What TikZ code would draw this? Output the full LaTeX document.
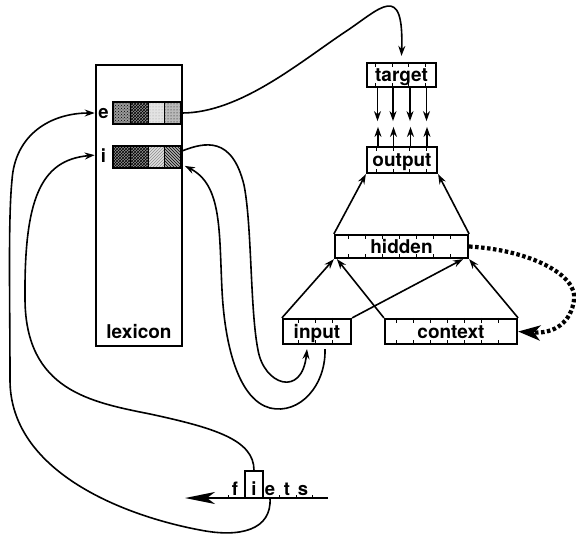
\documentclass[tikz,border=0pt]{standalone}
\usepackage{fontspec}
\setmainfont{TeX Gyre Heros}
\usetikzlibrary{arrows.meta,patterns,calc}

\tikzset{
  unit/.style={draw, line width=2.2pt, inner sep=0pt, fill=white,
    text height=13.5pt, text depth=0pt,
    font=\bfseries\fontsize{19}{20}\selectfont},
  tick/.style={line width=1pt},
  conn/.style={line width=1.6pt, -{Stealth[length=10pt,width=7pt]}},
  feedback/.style={line width=4.2pt, dash pattern=on 3.5pt off 2.5pt,
    -{Stealth[length=22pt,width=15pt,inset=6pt]}},
  letter/.style={inner sep=0pt, anchor=base, font=\bfseries\fontsize{18.5}{19}\selectfont},
  barframe/.style={draw, line width=1.8pt, inner sep=0pt, minimum width=68pt, minimum height=22pt},
  darkdots/.style={fill=gray!80, postaction={pattern=crosshatch dots, pattern color=black}},
  darkgrid/.style={fill=gray!85, postaction={pattern=crosshatch, pattern color=black}},
  lightdots/.style={fill=gray!22, postaction={pattern=dots, pattern color=gray!80}},
  meddots/.style={fill=gray!55, postaction={pattern=dots}},
  lighthatch/.style={fill=gray!25, postaction={pattern=north east lines, pattern color=gray!90}},
  darkhatch/.style={fill=gray!65, postaction={pattern=north west lines}},
}

% short ticks along the inner top and bottom edges of a unit box
\newcommand\unitticks[4]{%
  \foreach \k in {0,...,#4}{%
    \draw[tick] ($(#1.north west)+({#2+\k*#3},0)$) -- ++(0,5.5);
    \draw[tick] ($(#1.south west)+({#2+\k*#3},0)$) -- ++(0,-5.5);
  }}

\begin{document}
\begin{tikzpicture}[x=1pt,y=-1pt]
\useasboundingbox (0,0) rectangle (576,539);

% ---------------- lexicon ----------------
\node[draw, line width=2.6pt, minimum width=86pt, minimum height=281pt, inner sep=0pt] (lex) at (139,205.5) {};
\node[anchor=base, inner sep=0pt, font=\bfseries\fontsize{19}{20}\selectfont] (lexlabel) at (139,338) {lexicon};

% word entries
\path[darkdots]   (113,102) rectangle (130,124);
\path[darkgrid]   (130,102) rectangle (148,124);
\path[lightdots]  (148,102) rectangle (164,124);
\path[meddots]    (164,102) rectangle (181,124);
\path[darkgrid]   (113,146) rectangle (130,168);
\path[darkgrid]   (130,146) rectangle (148,168);
\path[lighthatch] (148,146) rectangle (164,168);
\path[darkhatch]  (164,146) rectangle (181,168);
\node[barframe] (ebar) at (147,113) {};
\node[barframe] (ibar) at (147,157) {};
\foreach \x in {130,148,164} {
  \draw[line width=0.9pt] (\x,102) -- (\x,124);
  \draw[line width=0.9pt] (\x,146) -- (\x,168);
}
\node[letter] (elab) at (103.5,118) {e};
\node[letter] (ilab) at (103.5,162) {i};

% ---------------- network ----------------
\node[unit, minimum width=69pt,  minimum height=24pt] (target)  at (401.5,75)    {target};
\node[unit, minimum width=70pt,  minimum height=26pt] (output)  at (402,160)     {output};
\node[unit, minimum width=133pt, minimum height=23pt] (hidden)  at (401.5,246.5) {hidden};
\node[unit, minimum width=68pt,  minimum height=25pt] (input)   at (317,331.5)   {input};
\node[unit, minimum width=132pt, minimum height=25pt] (context) at (451,331.5)   {context};

\unitticks{target}{10}{16.5}{3}
\unitticks{output}{11}{16.5}{3}
\unitticks{hidden}{15}{17}{6}
\unitticks{input}{17}{17}{2}
\unitticks{context}{13}{17}{6}

% target <-> output comparison
\foreach \dx in {-24,-8.5,8.5,25} {
  \draw[conn] ($(target.south)+(\dx,0)$) -- ($(target.south)+(\dx,33)$);
  \draw[conn] ($(output.north)+(\dx,0)$) -- ($(output.north)+(\dx,-19)$);
}

% hidden -> output
\draw[conn] (hidden.north west) -- (output.south west);
\draw[conn] (hidden.north east) -- (output.south east);

% input, context -> hidden
\draw[conn] (input.north west) -- (hidden.south west);
\draw[conn] (context.north west) -- ($(hidden.south west)+(3,0)$);
\draw[conn] (input.north east) -- ($(hidden.south east)+(-6,0)$);
\draw[conn] (context.north east) -- (hidden.south east);

% copy of hidden into context
\draw[feedback] (hidden.east) .. controls (530,250) and (578,275) .. (574,300)
  .. controls (571,322) and (555,334) .. (context.east);

% ---------------- lexicon <-> network ----------------
\coordinate (eOut) at (ebar.east);
\coordinate (tIn) at ($(target.north)+(0,-6)$);
\draw[conn] (eOut) .. controls (240,113) and (300,62) .. (345,32)
  .. controls (380,9) and (404,-20) .. (tIn);

\coordinate (iOut) at ($(ibar.east)+(0,-6)$);
\coordinate (iIn)  at ($(ibar.south east)+(3,-3)$);
\coordinate (inL)  at ($(input.south)+(-10,4)$);
\coordinate (inR)  at ($(input.south)+(8,4)$);
\draw[conn] (iOut) .. controls (205,142) and (232,136) .. (244,185)
  .. controls (252,225) and (250,310) .. (258,350)
  .. controls (264,385) and (302,398) .. (inL);
\draw[conn] (inR) .. controls (326,385) and (300,415) .. (270,408)
  .. controls (240,400) and (225,350) .. (222,290)
  .. controls (219,230) and (222,185) .. (iIn);

% ---------------- letter string ----------------
\node[letter] (lf) at (235,495.5) {f};
\node[letter] (li) at (254,495.5) {i};
\node[letter] (le) at (270,495.5) {e};
\node[letter] (lt) at (287,495.5) {t};
\node[letter] (ls) at (303,495.5) {s};
\node[draw, line width=1.5pt, inner sep=0pt, minimum width=18pt, minimum height=27pt] (cur) at (254,484.5) {};
\coordinate (tapeR) at (328,498);
\coordinate (tapeL) at (185,498);
\draw[line width=1.6pt, -{Stealth[length=30pt,width=12pt,inset=8pt]}] (tapeR) -- (tapeL);
\foreach \x in {228,279,296,312} \draw[tick] (\x,498) -- (\x,494.5);

% letters into the lexicon
\coordinate (eIn)   at ($(lex.north west)!(elab)!(lex.south west)$);
\coordinate (iLex)  at ($(lex.north west)!(ilab)!(lex.south west)$);
\coordinate (nextOut) at (le.base |- tapeL);
\draw[conn] (cur.north) .. controls (254,440) and (215,428) .. (150,414)
  .. controls (90,402) and (26,390) .. (25,300)
  .. controls (24,200) and (40,160) .. (iLex);
\draw[conn] (nextOut) .. controls (272,530) and (240,538) .. (200,530)
  .. controls (120,515) and (10,470) .. (10,380)
  .. controls (10,300) and (8,220) .. (12,180)
  .. controls (15,135) and (50,113) .. (eIn);
\end{tikzpicture}
\end{document}
